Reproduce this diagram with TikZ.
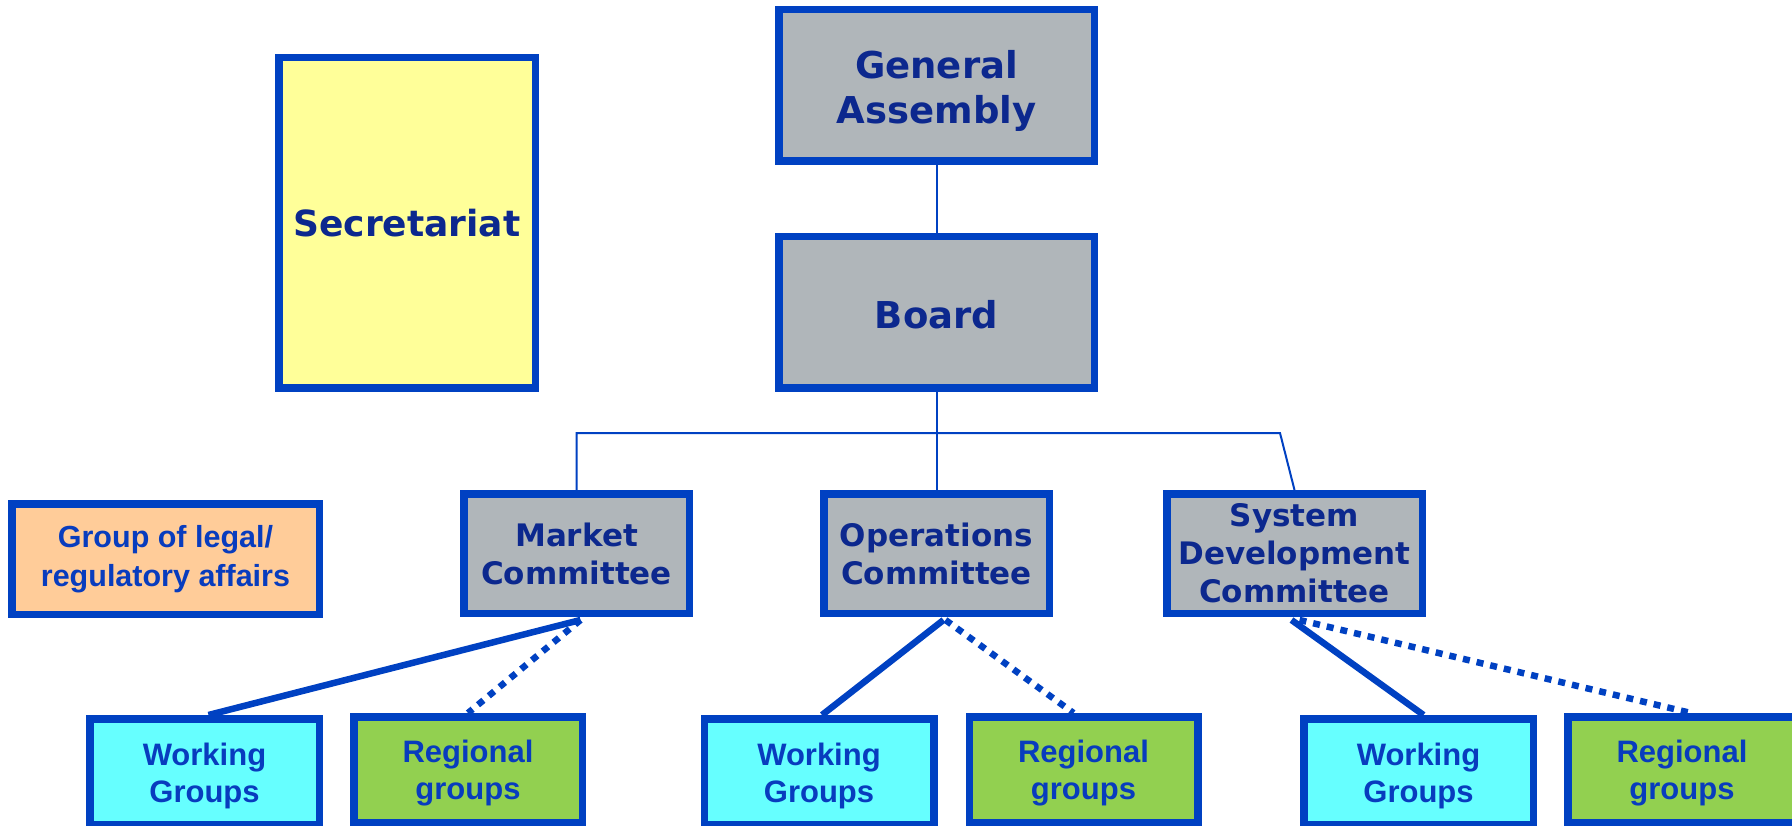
\documentclass[tikz,border=0pt]{standalone}
\usepackage{fontspec}
\newfontfamily\djv{DejaVu Sans}
\newfontfamily\lbs{Liberation Sans}
\definecolor{bdr}{RGB}{0,65,194}
\definecolor{grayfill}{RGB}{176,182,186}
\definecolor{yel}{RGB}{255,255,153}
\definecolor{peach}{RGB}{255,204,153}
\definecolor{cyanf}{RGB}{102,255,255}
\definecolor{greenf}{RGB}{146,208,80}
\definecolor{dtxt}{RGB}{12,40,142}
\definecolor{ltxt}{RGB}{8,60,190}
\tikzset{
  box/.style={draw=bdr, line width=7.5pt, inner sep=0pt, align=center, rectangle},
  topbox/.style={box, fill=grayfill, minimum width=315.5pt, minimum height=151.5pt},
  toptxt/.style={inner sep=0pt, align=center, font=\djv\bfseries\fontsize{37}{45}\selectfont, text=dtxt},
  combox/.style={box, fill=grayfill, minimum height=119.5pt,
    font=\djv\bfseries\fontsize{31}{38}\selectfont, text=dtxt},
  wgbox/.style={box, fill=cyanf, minimum width=229.5pt, minimum height=105.5pt},
  rgbox/.style={box, fill=greenf, minimum width=228.5pt, minimum height=105.5pt},
  lowtxt/.style={inner sep=0pt, align=center, font=\lbs\bfseries\fontsize{31}{37}\selectfont, text=ltxt},
  thinlink/.style={draw=bdr, line width=2pt},
  solidlink/.style={draw=bdr, line width=6.5pt},
  dotlink/.style={draw=bdr, line width=6.5pt, dash pattern=on 7pt off 7pt},
}
\begin{document}
\begin{tikzpicture}[x=1pt,y=-1pt]
\useasboundingbox[fill=white] (0,0) rectangle (1792,826);

\node[topbox] (ga) at (936.5,85.5) {};
\node[toptxt] (gat) at ([yshift=-5pt]ga.center) {General\\Assembly};
\node[topbox] (board) at (936.5,312.5) {};
\node[toptxt] (boardt) at ([yshift=-2pt]board.center) {Board};
\node[box, fill=yel, minimum width=256.5pt, minimum height=330.5pt,
  font=\djv\bfseries\fontsize{36}{44}\selectfont, text=dtxt] (sec) at (407,223) {Secretariat};
\node[box, fill=peach, minimum width=307.5pt, minimum height=110.5pt,
  font=\lbs\bfseries\fontsize{30.5}{39}\selectfont, text=ltxt] (legal) at (165.5,559) {Group of legal/\\regulatory affairs};

\node[combox, minimum width=225.5pt] (mc) at (576.5,553.5) {Market\\Committee};
\node[combox, minimum width=225.5pt] (oc) at (936.5,553.5) {Operations\\Committee};
\node[combox, minimum width=255.5pt] (sd) at (1294.5,553.5) {System\\Development\\Committee};

\node[wgbox] (wg1) at (204.5,771.5) {};
\node[rgbox] (rg1) at (468,769.5) {};
\node[wgbox] (wg2) at (819,771.5) {};
\node[rgbox] (rg2) at (1083.5,769.5) {};
\node[wgbox] (wg3) at (1418.5,771.5) {};
\node[rgbox] (rg3) at (1682,769.5) {};
\node[lowtxt] (wg1t) at ([yshift=-4pt]wg1.center) {Working\\Groups};
\node[lowtxt] (rg1t) at ([yshift=-4pt]rg1.center) {Regional\\groups};
\node[lowtxt] (wg2t) at ([yshift=-4pt]wg2.center) {Working\\Groups};
\node[lowtxt] (rg2t) at ([yshift=-4pt]rg2.center) {Regional\\groups};
\node[lowtxt] (wg3t) at ([yshift=-4pt]wg3.center) {Working\\Groups};
\node[lowtxt] (rg3t) at ([yshift=-4pt]rg3.center) {Regional\\groups};

\coordinate (h1) at (576.5,433);
\coordinate (h2) at (1280,433);

\draw[thinlink] (ga.south) -- (board.north);
\draw[thinlink] (board.south) -- (oc.north);
\draw[thinlink] (mc.north) -- (h1) -- (h2) -- (sd.north);

\draw[solidlink] ([xshift=4pt,yshift=-3pt]mc.south) -- ([xshift=4pt]wg1.north);
\draw[dotlink] ([xshift=4pt,yshift=-3pt]mc.south) -- (rg1.north);
\draw[solidlink] ([xshift=7pt,yshift=-3pt]oc.south) -- ([xshift=3pt]wg2.north);
\draw[dotlink] ([xshift=9pt,yshift=-3pt]oc.south) -- ([xshift=-10pt]rg2.north);
\draw[solidlink] ([xshift=-3pt,yshift=-3pt]sd.south) -- ([xshift=5pt]wg3.north);
\draw[dotlink] ([xshift=5pt,yshift=-3pt]sd.south) -- ([xshift=9pt]rg3.north);
\end{tikzpicture}
\end{document}
